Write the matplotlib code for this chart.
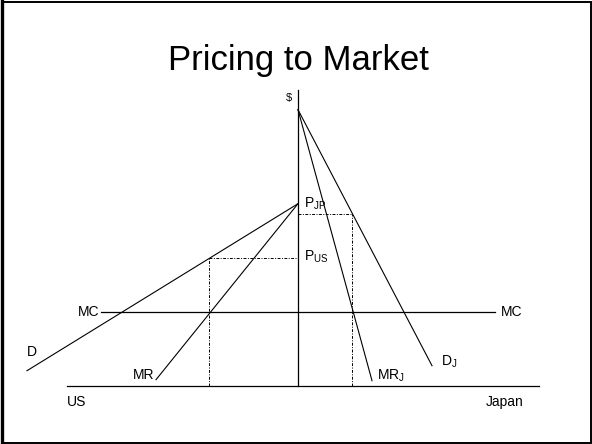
import matplotlib.pyplot as plt
from matplotlib.patches import Rectangle

plt.rcParams['font.family'] = ['Liberation Sans', 'DejaVu Sans']
plt.rcParams['mathtext.default'] = 'regular'

# price / quantity values (quantity to the left = US, to the right = Japan)
mc = 74
p_us = 128
p_jp = 172
q_us = -89
q_jp = 54

# US demand and marginal revenue: start at intercept, end points
us_d_q = [0, -271]
us_d_p = [182, 15]
us_mr_q = [0, -142]
us_mr_p = [182, 6]

# Japan demand and marginal revenue
jp_d_q = [0, 134]
jp_d_p = [276, 20]
jp_mr_q = [0, 74]
jp_mr_p = [276, 5]

mc_q = [-197, 197]
axis_q = [-231, 241]
price_axis_top = 296

fig = plt.figure(figsize=(5.92, 4.44), dpi=100)
ax = fig.add_axes([0, 0, 1, 1])
ax.set_xlim(-298, 294)
ax.set_ylim(-58.3, 385.7)
ax.axis('off')

# slide frame
fig.patches.append(Rectangle((2.5 / 592, 1.5 / 444), 588.5 / 592, 440.5 / 444,
                             transform=fig.transFigure, fill=False,
                             edgecolor='black', lw=1.4))
fig.lines.append(plt.Line2D([2.2 / 592, 2.2 / 592], [0.5 / 444, 443 / 444],
                            transform=fig.transFigure, color='black', lw=2.4))

ax.text(0.5, 316, 'Pricing to Market', ha='center', va='baseline', fontsize=25)

lc = 'black'
ax.plot([0, 0], [0, price_axis_top], color=lc, lw=0.9)
ax.plot(axis_q, [0, 0], color=lc, lw=0.9)
ax.plot(mc_q, [mc, mc], color=lc, lw=0.9)

ax.plot(us_d_q, us_d_p, color=lc, lw=0.8)
ax.plot(us_mr_q, us_mr_p, color=lc, lw=0.8)
ax.plot(jp_d_q, jp_d_p, color=lc, lw=0.8)
ax.plot(jp_mr_q, jp_mr_p, color=lc, lw=0.8)

dd = (0, (3, 1.5, 1, 1.5))
ax.plot([q_us, 0], [p_us, p_us], color=lc, lw=0.7, linestyle=dd)
ax.plot([q_us, q_us], [0, p_us], color=lc, lw=0.7, linestyle=dd)
ax.plot([0, q_jp], [p_jp, p_jp], color=lc, lw=0.7, linestyle=dd)
ax.plot([q_jp, q_jp], [0, p_jp], color=lc, lw=0.7, linestyle=dd)

fs = 10
ax.text(-9.5, 287.7, '$', ha='center', va='center', fontsize=8)
ax.text(6, 182, 'P$_{JP}$', ha='left', va='center', fontsize=fs)
ax.text(6, 128.5, 'P$_{US}$', ha='left', va='center', fontsize=fs)
ax.text(-198.5, mc, 'MC', ha='right', va='center', fontsize=fs)
ax.text(202.7, mc, 'MC', ha='left', va='center', fontsize=fs)
ax.text(-271, 34, 'D', ha='left', va='center', fontsize=fs)
ax.text(-144, 11, 'MR', ha='right', va='center', fontsize=fs)
ax.text(79, 10, 'MR$_{J}$', ha='left', va='center', fontsize=fs)
ax.text(143, 24, 'D$_{J}$', ha='left', va='center', fontsize=fs)
ax.text(-231, -20.5, 'US', ha='left', va='baseline', fontsize=fs)
ax.text(188, -20.5, 'Japan', ha='left', va='baseline', fontsize=fs)

fig.savefig('out.png', dpi=100)
